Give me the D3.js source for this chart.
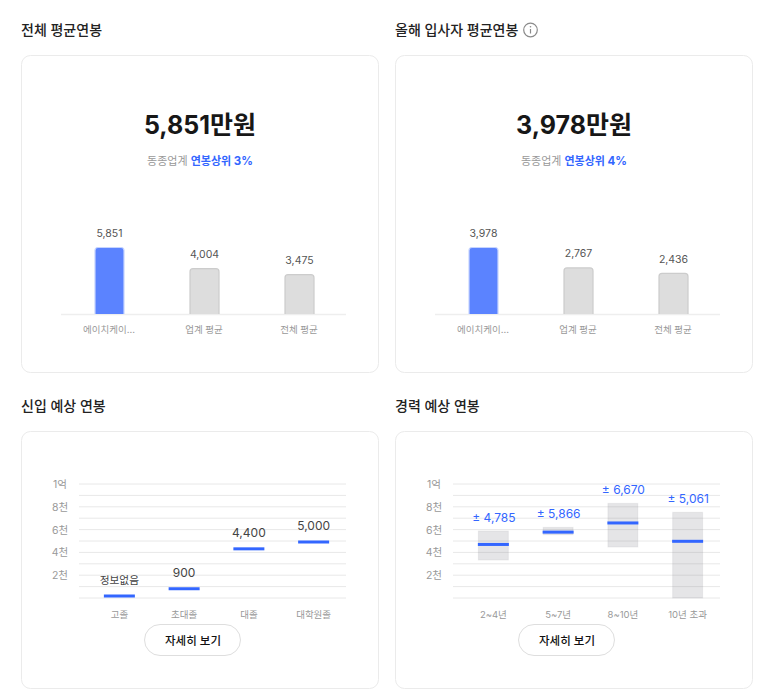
<!DOCTYPE html>
<html lang="ko">
<head>
<meta charset="utf-8">
<script src="https://cdn.jsdelivr.net/npm/d3@7/dist/d3.min.js"></script>
<style>
  html, body { margin: 0; padding: 0; background: #fff; overflow: hidden; }
  svg { display: block; }
  text { font-family: Inter, "Noto Sans CJK KR", sans-serif; }
</style>
</head>
<body>
<svg id="chart" width="770" height="699"></svg>
<script>
var avgCategories = ["에이치케이...", "업계 평균", "전체 평균"];
var avgAll = [5851, 4004, 3475];
var avgNew = [3978, 2767, 2436];

var eduCategories = ["고졸", "초대졸", "대졸", "대학원졸"];
var eduValues = [0, 900, 4400, 5000];
var eduLabels = ["정보없음", "900", "4,400", "5,000"];

var expCategories = ["2~4년", "5~7년", "8~10년", "10년 초과"];
var expValues = [4785, 5866, 6670, 5061];
var expLow = [3330, 5550, 4470, 0];
var expHigh = [5880, 6200, 8300, 7520];

var gridTicks = [0, 1000, 2000, 3000, 4000, 5000, 6000, 7000, 8000, 9000, 10000];
var tickNames = { 2000: "2천", 4000: "4천", 6000: "6천", 8000: "8천", 10000: "1억" };

var blue = "#3366ff";
var svg = d3.select("#chart");

function card(x, y, w, h) {
  svg.append("rect").attr("x", x + .5).attr("y", y + .5).attr("width", w).attr("height", h)
    .attr("rx", 9).attr("fill", "#fff").attr("stroke", "#ebebeb");
}

function heading(x, y, s) {
  svg.append("text").attr("x", x).attr("y", y).attr("dy", ".36em")
    .attr("font-size", 14).attr("font-weight", 500).attr("fill", "#222").text(s);
}

// top cards: big number + three bars
function summary(left, values, total, rank) {
  var cx = left + 179;
  card(left, 55, 357, 317);

  svg.append("text").attr("x", cx).attr("y", 125).attr("dy", ".36em").attr("text-anchor", "middle")
    .attr("font-size", 25).attr("font-weight", 700).attr("fill", "#171717").text(total);

  var sub = svg.append("text").attr("x", cx).attr("y", 161).attr("dy", ".36em")
    .attr("text-anchor", "middle").attr("font-size", 11);
  sub.append("tspan").attr("fill", "#999").text("동종업계 ");
  sub.append("tspan").attr("fill", blue).attr("font-weight", 700).text("연봉상위 ");
  sub.append("tspan").attr("fill", blue).attr("font-weight", 700).attr("font-size", 11.5).text(rank);

  var x = d3.scaleBand().domain(avgCategories).range([left + 40, left + 325]);
  var y = d3.scaleLinear().domain([0, values[0]]).range([314, 247]);
  var r = 3, bw = 30;

  svg.append("line").attr("x1", x.range()[0]).attr("x2", x.range()[1])
    .attr("y1", 314.5).attr("y2", 314.5).attr("stroke", "#eeeeee").attr("stroke-width", 1.5);

  var bars = svg.append("g").selectAll("g").data(values).enter().append("g")
    .attr("transform", function(d, i) { return "translate(" + (x(avgCategories[i]) + x.bandwidth() / 2 + 1) + ",0)"; });

  bars.append("path")
    .attr("d", function(d) {
      var t = y(d) + .5, b = y(0), h = bw / 2 - .5;
      return "M" + (-h) + "," + b + "V" + (t + r) + "Q" + (-h) + "," + t + " " + (-h + r) + "," + t
        + "H" + (h - r) + "Q" + h + "," + t + " " + h + "," + (t + r) + "V" + b;
    })
    .attr("fill", function(d, i) { return i == 0 ? "#5b83ff" : "#dddddd"; })
    .attr("stroke", function(d, i) { return i == 0 ? "#c6d4ff" : "#cccccc"; })
    .attr("stroke-width", 1.2);

  bars.append("text").attr("y", function(d) { return y(d) - 14; }).attr("dy", ".36em")
    .attr("text-anchor", "middle").attr("font-size", 10.5).attr("fill", "#555")
    .text(function(d) { return d3.format(",")(d); });

  bars.append("text").attr("x", -.5).attr("y", 330).attr("dy", ".36em").attr("text-anchor", "middle")
    .attr("font-size", 9.5).attr("fill", "#999")
    .text(function(d, i) { return avgCategories[i]; });
}

// bottom cards: shared frame, returns the scales
function frame(left, categories) {
  card(left, 431, 357, 257);

  var x = d3.scaleBand().domain(categories).range([left + 66, left + 325]);
  var y = d3.scaleLinear().domain([0, 10000]).range([598, 484]);

  var yAxis = d3.axisLeft(y).tickValues(gridTicks).offset(0)
    .tickSize(-(x.range()[1] - (left + 58))).tickPadding(0)
    .tickFormat(function(d) { return tickNames[d] || ""; });

  var gy = svg.append("g").attr("transform", "translate(" + (left + 58) + ",0)").call(yAxis);
  gy.select(".domain").remove();
  gy.selectAll("line").attr("stroke", "#e8e8e8");
  gy.selectAll("text").attr("x", -19).attr("y", .8).attr("dy", ".3em").attr("text-anchor", "middle")
    .attr("font-size", 10.5).attr("fill", "#999").attr("font-family", null);

  var xAxis = d3.axisBottom(x).tickSize(0).tickPadding(0).offset(0);
  var gx = svg.append("g").attr("transform", "translate(0,610)").call(xAxis);
  gx.select(".domain").remove();
  gx.selectAll("text").attr("y", 5).attr("dy", ".36em")
    .attr("font-size", 9.5).attr("fill", "#999").attr("font-family", null);

  // 자세히 보기 button
  svg.append("rect").attr("x", left + 123.5).attr("y", 624.5).attr("width", 96).attr("height", 31)
    .attr("rx", 15.5).attr("fill", "#fff").attr("stroke", "#dedede");
  svg.append("text").attr("x", left + 172).attr("y", 640.5).attr("dy", ".36em").attr("text-anchor", "middle")
    .attr("font-size", 11.5).attr("font-weight", 500).attr("fill", "#111").text("자세히 보기");

  return { x: x, y: y };
}

function marks(s, categories, values) {
  var mw = 31;
  svg.append("g").selectAll("rect").data(values).enter().append("rect")
    .attr("x", function(d, i) { return s.x(categories[i]) + s.x.bandwidth() / 2 - mw / 2; })
    .attr("y", function(d) { return Math.min(s.y(d) - .5, s.y(0) - 3.5); })
    .attr("width", mw).attr("height", 3)
    .attr("fill", blue);
}

heading(21, 29.5, "전체 평균연봉");
heading(395, 29.5, "올해 입사자 평균연봉");
heading(21, 405.5, "신입 예상 연봉");
heading(395, 405.5, "경력 예상 연봉");

// info icon next to the second heading
var info = svg.append("g").attr("transform", "translate(530.5,30)");
info.append("circle").attr("r", 6.8).attr("fill", "none").attr("stroke", "#8a8a8a").attr("stroke-width", 1.2);
info.append("line").attr("y1", -1).attr("y2", 3.5).attr("stroke", "#8a8a8a").attr("stroke-width", 1.2);
info.append("circle").attr("cy", -3.2).attr("r", .8).attr("fill", "#8a8a8a");

summary(21, avgAll, "5,851만원", "3%");
summary(395, avgNew, "3,978만원", "4%");

// 신입
var edu = frame(21, eduCategories);
marks(edu, eduCategories, eduValues);
svg.append("g").selectAll("text").data(eduValues).enter().append("text")
  .attr("x", function(d, i) { return edu.x(eduCategories[i]) + edu.x.bandwidth() / 2; })
  .attr("y", function(d) { return Math.min(edu.y(d), edu.y(0) - 3) - 15; })
  .attr("dy", ".36em").attr("text-anchor", "middle").attr("fill", "#444")
  .attr("font-size", function(d) { return d == 0 ? 10.7 : 12; })
  .text(function(d, i) { return eduLabels[i]; });

// 경력
var exp = frame(395, expCategories);
svg.append("g").selectAll("rect").data(expValues).enter().append("rect")
  .attr("x", function(d, i) { return exp.x(expCategories[i]) + exp.x.bandwidth() / 2 - 15; })
  .attr("y", function(d, i) { return exp.y(expHigh[i]); })
  .attr("width", 30)
  .attr("height", function(d, i) { return exp.y(expLow[i]) - exp.y(expHigh[i]); })
  .attr("fill", "rgba(125,125,135,.2)").attr("stroke", "rgba(125,125,135,.1)");
marks(exp, expCategories, expValues);
svg.append("g").selectAll("text").data(expValues).enter().append("text")
  .attr("x", function(d, i) { return exp.x(expCategories[i]) + exp.x.bandwidth() / 2 + .5; })
  .attr("y", function(d, i) { return exp.y(expHigh[i]) - 13.5; })
  .attr("dy", ".36em").attr("text-anchor", "middle").attr("font-size", 12).attr("fill", blue)
  .text(function(d) { return "± " + d3.format(",")(d); });
</script>
</body>
</html>
